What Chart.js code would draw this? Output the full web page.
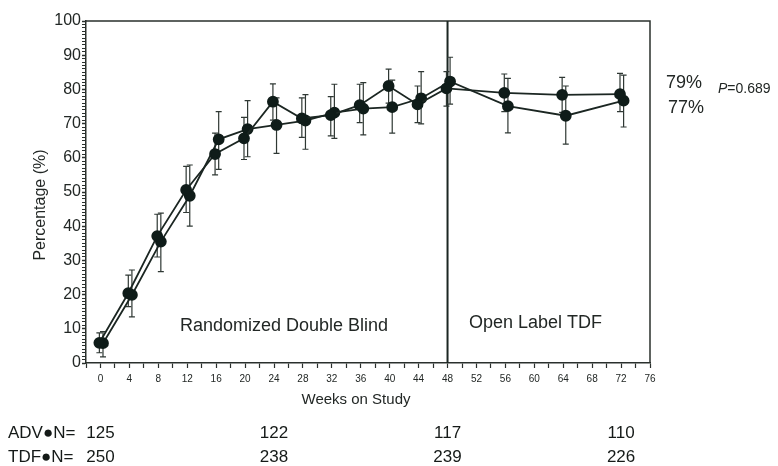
<!DOCTYPE html>
<html>
<head>
<meta charset="utf-8">
<script src="https://cdn.jsdelivr.net/npm/chart.js@4.4.1/dist/chart.umd.min.js"></script>
<style>
html,body{margin:0;padding:0;background:#fff;}
#wrap{width:778px;height:466px;position:relative;}
</style>
</head>
<body>
<div id="wrap"><canvas id="c" width="778" height="466"></canvas></div>
<script>
// ---- data ----
const weeks = [0, 4, 8, 12, 16, 20, 24, 28, 32, 36, 40, 44, 48, 56, 64, 72];
const advValues = [5.9, 20.4, 37.1, 50.6, 61.1, 65.7, 76.4, 71.5, 72.5, 75.4, 81.0, 75.6, 80.3, 79.0, 78.4, 78.6];
const advLow    = [3.0, 16.5, 31.0, 44.0, 55.0, 59.5, 71.0, 66.0, 66.4, 70.3, 76.0, 70.3, 75.1, 73.5, 73.3, 73.5];
const advHigh   = [8.8, 25.7, 43.5, 57.5, 67.2, 71.8, 81.6, 77.5, 77.9, 81.5, 85.9, 81.0, 85.2, 84.5, 83.5, 84.7];
const tdfValues = [5.8, 19.9, 35.5, 48.9, 65.4, 68.4, 69.6, 70.9, 73.2, 74.4, 74.8, 77.4, 82.3, 75.1, 72.3, 76.7];
const tdfLow    = [1.8, 13.5, 26.7, 40.0, 56.6, 60.3, 61.3, 62.5, 65.7, 66.7, 67.2, 69.9, 75.7, 67.3, 64.0, 69.0];
const tdfHigh   = [9.2, 27.2, 43.8, 57.9, 73.5, 76.7, 77.5, 78.5, 81.5, 82.0, 82.7, 85.2, 89.4, 83.2, 81.0, 84.2];
const xTickLabels = [0, 4, 8, 12, 16, 20, 24, 28, 32, 36, 40, 44, 48, 52, 56, 60, 64, 68, 72, 76];
const yTickLabels = [0, 10, 20, 30, 40, 50, 60, 70, 80, 90, 100];
const nWeeks = [0, 24, 48, 72];
const advN = [125, 122, 117, 110];
const tdfN = [250, 238, 239, 226];
const endLabels = ['79%', '77%'];
const pValue = '=0.689';
const phaseSplitWeek = 48;

const INK = '#1b2622';
const TXT = '#222725';

function pts(vals, off){ return weeks.map((w,i)=>({x:w+off, y:vals[i]})); }

const series = [
  {label:'ADV', data:pts(advValues,-0.15), low:advLow, high:advHigh, off:-0.15},
  {label:'TDF', data:pts(tdfValues,0.35), low:tdfLow, high:tdfHigh, off:0.35}
];

const overlay = {
  id:'overlay',
  beforeDatasetsDraw(chart){
    const {ctx, chartArea:a, scales:{x,y}} = chart;
    ctx.save();
    ctx.strokeStyle = '#2a302d'; ctx.lineWidth = 1.5;
    ctx.beginPath();
    ctx.moveTo(a.left, a.top); ctx.lineTo(a.right, a.top); ctx.lineTo(a.right, a.bottom);
    ctx.stroke();
    const px = x.getPixelForValue(phaseSplitWeek);
    ctx.strokeStyle = INK; ctx.lineWidth = 2;
    ctx.beginPath(); ctx.moveTo(px, a.top); ctx.lineTo(px, a.bottom); ctx.stroke();
    ctx.strokeStyle = '#2f3834'; ctx.lineWidth = 1.2;
    chart.data.datasets.forEach(ds=>{
      weeks.forEach((w,i)=>{
        const cx = x.getPixelForValue(w+ds.off);
        const yl = y.getPixelForValue(ds.low[i]);
        const yh = y.getPixelForValue(ds.high[i]);
        ctx.beginPath();
        ctx.moveTo(cx, yl); ctx.lineTo(cx, yh);
        ctx.moveTo(cx-3, yl); ctx.lineTo(cx+3, yl);
        ctx.moveTo(cx-3, yh); ctx.lineTo(cx+3, yh);
        ctx.stroke();
      });
    });
    ctx.restore();
  },
  afterDraw(chart){
    const {ctx, scales:{x,y}} = chart;
    ctx.save();
    ctx.fillStyle = TXT;
    ctx.textBaseline = 'alphabetic';
    ctx.font = '18px "Liberation Sans", Arial, sans-serif';
    ctx.textAlign = 'left';
    ctx.fillText('Randomized Double Blind', 180, 331);
    ctx.fillText('Open Label TDF', 469, 328);
    ctx.fillText(endLabels[0], 666, 88);
    ctx.fillText(endLabels[1], 668, 113);
    ctx.font = 'italic 14px "Liberation Sans", Arial, sans-serif';
    ctx.fillText('P', 718, 93);
    const pw = ctx.measureText('P').width;
    ctx.font = '14px "Liberation Sans", Arial, sans-serif';
    ctx.fillText(pValue, 718+pw, 93);
    ctx.font = '15px "Liberation Sans", Arial, sans-serif';
    ctx.textAlign = 'center';
    ctx.fillText('Weeks on Study', 356, 404);
    ctx.save();
    ctx.translate(41, 205); ctx.rotate(-Math.PI/2);
    ctx.textBaseline = 'middle';
    ctx.font = '16px "Liberation Sans", Arial, sans-serif';
    ctx.fillText('Percentage (%)', 0, 0);
    ctx.restore();
    ctx.fillStyle = '#151a18';
    ctx.font = '17px "Liberation Sans", Arial, sans-serif';
    ctx.textAlign = 'left';
    ctx.fillText('ADV\u25CFN=', 8, 438);
    ctx.fillText('TDF\u25CFN=', 8, 462);
    ctx.textAlign = 'center';
    nWeeks.forEach((w,i)=>{
      const px = x.getPixelForValue(w);
      ctx.fillText(String(advN[i]), px, 438);
      ctx.fillText(String(tdfN[i]), px, 462);
    });
    ctx.restore();
  }
};

new Chart(document.getElementById('c'), {
  type:'line',
  data:{
    datasets: series.map(s=>({
      label:s.label, data:s.data, low:s.low, high:s.high, off:s.off,
      borderColor:INK, backgroundColor:INK, borderWidth:1.8,
      pointRadius:5, pointBackgroundColor:'#0f1c19', pointBorderColor:'#0f1c19',
      tension:0, fill:false
    }))
  },
  options:{
    responsive:false, animation:false, devicePixelRatio:1,
    layout:{padding:{left:0, top:21, right:128, bottom:0}},
    plugins:{legend:{display:false}, tooltip:{enabled:false}},
    scales:{
      x:{
        type:'linear', min:-2, max:76,
        afterFit(s){ s.height = 103; },
        grid:{drawOnChartArea:false, drawTicks:true, tickLength:5, color:'#2a302d', tickWidth:1.2},
        border:{display:true, color:'#2a302d', width:1.5},
        ticks:{
          stepSize:2, autoSkip:false, maxRotation:0, padding:5,
          color:TXT, font:{size:10, family:'"Liberation Sans", Arial, sans-serif'},
          callback:v => xTickLabels.includes(v) ? String(v) : ''
        }
      },
      y:{
        min:0, max:100,
        afterFit(s){ s.width = 86; },
        grid:{drawOnChartArea:false, drawTicks:true, tickLength:4, color:'#2a302d',
              tickWidth:c => (c.tick && c.tick.value % 10 === 0) ? 1.5 : 1},
        border:{display:true, color:'#2a302d', width:1.5},
        ticks:{
          stepSize:1, autoSkip:false, padding:1,
          color:TXT, font:{size:16, family:'"Liberation Sans", Arial, sans-serif'},
          callback:v => yTickLabels.includes(v) ? String(v) : ''
        }
      }
    }
  },
  plugins:[overlay]
});
</script>
</body>
</html>
